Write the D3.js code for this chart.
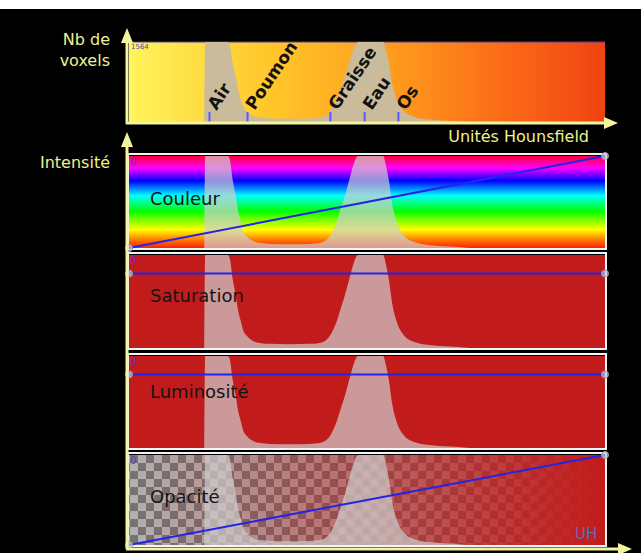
<!DOCTYPE html>
<html>
<head>
<meta charset="utf-8">
<script src="https://cdn.jsdelivr.net/npm/d3@7"></script>
<style>
  body { margin: 0; background: #000; }
  svg { display: block; }
  text { font-family: "DejaVu Sans", sans-serif; }
</style>
</head>
<body>
<div id="transfer-chart"></div>
<script>
// histogram of voxels along the Hounsfield axis (position 0-100 on the axis)
const binPos = [15.8, 16.0, 20.8, 21.2, 21.8, 22.5, 22.9, 23.5, 23.9, 24.8, 25.8, 27.5, 29.6, 33.8, 38.0,
    40.1, 41.4, 42.4, 43.5, 44.3, 45.4, 46.4, 47.3, 48.1, 51.1, 53.4, 54.0, 54.6, 55.3, 56.3, 57.7,
    59.8, 63.0, 69.3, 71.5];
const voxelCount = [0, 3000, 1700, 1500, 1150, 850, 640, 450, 320, 200, 130, 85, 70, 65, 70,
    85, 130, 230, 420, 620, 900, 1200, 1450, 1700, 2500, 1700, 1400, 1150, 750, 430, 220,
    105, 50, 15, 0];
const histMax = 1564;

// tissue markers
const tissueNames = ["Air", "Poumon", "Graisse", "Eau", "Os"];
const tissuePos = [16.8, 24.8, 42.2, 49.4, 56.5];

// transfer functions (value at left end, value at right end)
const panelNames = ["Couleur", "Saturation", "Luminosité", "Opacité"];
const transferStart = [0, 0.8, 0.8, 0];
const transferEnd = [1, 0.8, 0.8, 1];

function createTransferChart() {

const width = 641, height = 553;
const axisColor = "#f4f4a0";
const labelColor = "#f0f08c";

// panel layout
const histTop = 42, histBottom = 122;
const panelTop = [156, 255, 356, 455];
const panelHeight = [92, 93, 92, 90];

var x = d3.scaleLinear().domain([0, 100]).range([129, 605]);

var hist = binPos.map(function(p, i) { return { pos: p, count: voxelCount[i] }; });

var svg = d3.select("#transfer-chart")
    .append("svg")
    .attr("width", width)
    .attr("height", height);

svg.append("rect").attr("width", width).attr("height", height).attr("fill", "#000");
svg.append("rect").attr("width", width).attr("height", 9).attr("fill", "#fff");

var defs = svg.append("defs");

// yellow -> red gradient of the histogram
var g1 = defs.append("linearGradient").attr("id", "hot").attr("x1", 0).attr("x2", 1).attr("y1", 0).attr("y2", 0);
[[0, "#fff45c"], [0.3, "#ffc62a"], [0.55, "#ff9c1e"], [0.8, "#fb6816"], [1, "#f04312"]].forEach(function(s) {
    g1.append("stop").attr("offset", s[0]).attr("stop-color", s[1]);
});

// rainbow for the colour panel
var g2 = defs.append("linearGradient").attr("id", "rainbow").attr("x1", 0).attr("x2", 0).attr("y1", 0).attr("y2", 1);
[[0, "#ff0036"], [0.13, "#ff00ff"], [0.27, "#0000ff"], [0.43, "#00ffff"], [0.6, "#00ff00"],
 [0.8, "#ffff00"], [0.92, "#ff7000"], [1, "#ff2000"]].forEach(function(s) {
    g2.append("stop").attr("offset", s[0]).attr("stop-color", s[1]);
});

// red with growing opacity
var g3 = defs.append("linearGradient").attr("id", "fade").attr("x1", 0).attr("x2", 1).attr("y1", 0).attr("y2", 0);
g3.append("stop").attr("offset", 0).attr("stop-color", "#c41b1b").attr("stop-opacity", 0);
g3.append("stop").attr("offset", 1).attr("stop-color", "#c41b1b").attr("stop-opacity", 1);

// checkerboard
var pat = defs.append("pattern").attr("id", "checker").attr("patternUnits", "userSpaceOnUse")
    .attr("width", 16).attr("height", 16).attr("x", 130).attr("y", 455);
pat.append("rect").attr("width", 16).attr("height", 16).attr("fill", "#b2b2b2");
pat.append("rect").attr("width", 8).attr("height", 8).attr("fill", "#747474");
pat.append("rect").attr("x", 8).attr("y", 8).attr("width", 8).attr("height", 8).attr("fill", "#747474");

// ---- top panel : histogram ----
var yHist = d3.scaleLinear().domain([0, histMax]).range([histBottom, histTop]).clamp(true);

svg.append("rect")
    .attr("x", x(0)).attr("y", histTop)
    .attr("width", x(100) - x(0)).attr("height", histBottom - histTop)
    .attr("fill", "url(#hot)");
svg.append("line")
    .attr("x1", x(0)).attr("x2", x(100)).attr("y1", histTop).attr("y2", histTop)
    .attr("stroke", "#5040a0").attr("stroke-width", 1);

var areaTop = d3.area()
    .x(function(d) { return x(d.pos); })
    .y0(yHist(0))
    .y1(function(d) { return yHist(d.count); })
    .curve(d3.curveMonotoneX);

svg.append("path").datum(hist).attr("d", areaTop).attr("fill", "#c9bb9c");

svg.append("text")
    .attr("x", x(0) + 2).attr("y", histTop + 7)
    .text(histMax)
    .style("font-size", "7px").style("fill", "#4848b0");

// tissue ticks
var tissueAxis = d3.axisTop(x)
    .tickValues(tissuePos)
    .tickFormat(function(d, i) { return tissueNames[i]; })
    .tickSize(10)
    .tickSizeOuter(0);

var ta = svg.append("g")
    .attr("transform", "translate(0," + histBottom + ")")
    .call(tissueAxis);
ta.select(".domain").remove();
ta.selectAll(".tick line").attr("stroke", "#5a5aff").attr("stroke-width", 2);
ta.selectAll(".tick text")
    .attr("x", 0).attr("y", 0).attr("dy", 0)
    .attr("text-anchor", "start")
    .attr("transform", "translate(7,-11) rotate(-56)")
    .style("font-family", "DejaVu Sans, sans-serif")
    .style("font-size", "17px")
    .style("font-weight", "bold")
    .style("fill", "#111");

// ---- lower panels ----
var areaLow = d3.area()
    .x(function(d) { return x(d.pos); })
    .curve(d3.curveMonotoneX);

panelNames.forEach(function(name, i) {
    var top = panelTop[i], h = panelHeight[i];
    var y = d3.scaleLinear().domain([0, 1]).range([top + h, top]);
    var yCount = d3.scaleLinear().domain([0, histMax]).range([top + h, top]).clamp(true);

    // frame
    svg.append("rect")
        .attr("x", x(0) - 1).attr("y", top - 2)
        .attr("width", x(100) - x(0) + 2).attr("height", h + 3)
        .attr("fill", "none").attr("stroke", "#f4f4f4").attr("stroke-width", 2);

    var bg = svg.append("g");
    if (i === 0) {
        bg.append("rect").attr("x", x(0)).attr("y", top).attr("width", x(100) - x(0)).attr("height", h)
            .attr("fill", "url(#rainbow)");
    } else if (i === 3) {
        bg.append("rect").attr("x", x(0)).attr("y", top).attr("width", x(100) - x(0)).attr("height", h)
            .attr("fill", "url(#checker)");
        bg.append("rect").attr("x", x(0)).attr("y", top).attr("width", x(100) - x(0)).attr("height", h)
            .attr("fill", "url(#fade)");
    } else {
        bg.append("rect").attr("x", x(0)).attr("y", top).attr("width", x(100) - x(0)).attr("height", h)
            .attr("fill", "#c21b1b");
    }

    // histogram shadow
    areaLow.y0(yCount(0)).y1(function(d) { return yCount(d.count); });
    svg.append("path").datum(hist).attr("d", areaLow)
        .attr("fill", "#cfcfcf").attr("fill-opacity", 0.7);

    svg.append("text")
        .attr("x", x(0) + 1).attr("y", top + 9)
        .text("0")
        .style("font-size", "10px").style("fill", "#6038d0");

    svg.append("text")
        .attr("x", 150).attr("y", top + [49, 47, 42, 48][i])
        .text(name)
        .style("font-size", "18px").style("fill", "#141414");

    // transfer function line
    var pts = [{ pos: 0, v: transferStart[i] }, { pos: 100, v: transferEnd[i] }];
    svg.append("path").datum(pts)
        .attr("d", d3.line().x(function(d) { return x(d.pos); }).y(function(d) { return y(d.v); }))
        .attr("stroke", "#2424e6").attr("stroke-width", 2).attr("fill", "none");
    svg.selectAll(null).data(pts).enter().append("circle")
        .attr("cx", function(d) { return x(d.pos); })
        .attr("cy", function(d) { return y(d.v); })
        .attr("r", 3.5)
        .attr("fill", "#c8c8d8").attr("fill-opacity", 0.7)
        .attr("stroke", "#9a9ab0").attr("stroke-width", 1);
});

svg.append("text")
    .attr("x", 575).attr("y", 539)
    .text("UH")
    .style("font-size", "15px").style("fill", "#5a6cb4");

// ---- axes with arrows ----
function arrowAxis(x0, y0, x1, y1, dir) {
    svg.append("line")
        .attr("x1", x0).attr("y1", y0).attr("x2", x1).attr("y2", y1)
        .attr("stroke", axisColor).attr("stroke-width", 3);
    var p;
    if (dir === "up") p = [[x1, y1 - 15], [x1 - 6, y1], [x1 + 6, y1]];
    else p = [[x1 + 14, y1], [x1, y1 - 6], [x1, y1 + 6]];
    svg.append("path").attr("d", "M" + p.join("L") + "Z").attr("fill", axisColor);
}
arrowAxis(127, 124, 127, 43, "up");
arrowAxis(126, 123, 604, 123, "right");
arrowAxis(127, 549, 127, 147, "up");
arrowAxis(126, 549, 618, 549, "right");

// axis titles
svg.append("text").attr("x", 110).attr("y", 45).attr("text-anchor", "end").text("Nb de")
    .style("font-size", "16px").style("fill", labelColor);
svg.append("text").attr("x", 110).attr("y", 66).attr("text-anchor", "end").text("voxels")
    .style("font-size", "16px").style("fill", labelColor);
svg.append("text").attr("x", 110).attr("y", 168).attr("text-anchor", "end").text("Intensité")
    .style("font-size", "16px").style("fill", labelColor);
svg.append("text").attr("x", 589).attr("y", 142).attr("text-anchor", "end").text("Unités Hounsfield")
    .style("font-size", "16px").style("fill", labelColor);
}
createTransferChart();
</script>
</body>
</html>
